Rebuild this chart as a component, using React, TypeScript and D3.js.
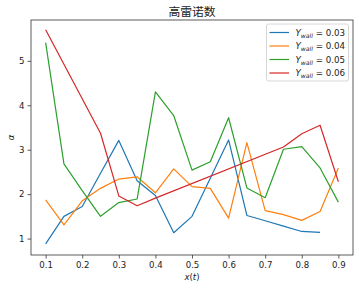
import React from 'react';
import { select, scaleLinear, axisBottom, axisLeft, line } from 'd3';

// data
const xFull = [0.1, 0.15, 0.2, 0.25, 0.3, 0.35, 0.4, 0.45, 0.5, 0.55, 0.6, 0.65, 0.7, 0.75, 0.8, 0.85, 0.9];
const xBlue = xFull.slice(0, 16);
const xRed = [0.1, 0.25, 0.3, 0.35, 0.4, 0.75, 0.8, 0.85, 0.9];

const blue = [0.88, 1.5, 1.72, 2.47, 3.21, 2.3, 1.97, 1.13, 1.5, 2.36, 3.22, 1.52, 1.4, 1.28, 1.16, 1.14];
const orange = [1.87, 1.31, 1.85, 2.13, 2.34, 2.39, 2.03, 2.57, 2.17, 2.13, 1.46, 3.16, 1.63, 1.54, 1.41, 1.61, 2.59];
const green = [5.41, 2.68, 2.08, 1.5, 1.81, 1.89, 4.3, 3.77, 2.54, 2.73, 3.72, 2.14, 1.92, 3.01, 3.07, 2.59, 1.82];
const red = [5.7, 3.37, 1.96, 1.74, 1.91, 3.06, 3.36, 3.55, 2.28];

const legendLabels = ['0.03', '0.04', '0.05', '0.06'];
const colors = ['#1f77b4', '#ff7f0e', '#2ca02c', '#d62728'];
const xTicks = [0.1, 0.2, 0.3, 0.4, 0.5, 0.6, 0.7, 0.8, 0.9];
const yTicks = [1, 2, 3, 4, 5];

const W = 359;
const H = 290;
const left = 31;
const top = 20;
const right = 353;
const bottom = 255;
const font = 'DejaVu Sans, sans-serif';

export default function App() {
  const svgRef = React.useRef<SVGSVGElement>(null);

  React.useEffect(() => {
    const svg = select(svgRef.current);
    svg.selectAll('*').remove();

    const x = scaleLinear().domain([0.06, 0.94]).range([left, right]);
    const y = scaleLinear().domain([0.63, 5.92]).range([bottom, top]);

    const series = [
      { xs: xBlue, ys: blue },
      { xs: xFull, ys: orange },
      { xs: xFull, ys: green },
      { xs: xRed, ys: red },
    ];

    const mk = line<[number, number]>()
      .x((d) => x(d[0]))
      .y((d) => y(d[1]));

    svg
      .append('g')
      .selectAll('path')
      .data(series)
      .join('path')
      .attr('d', (s) => mk(s.xs.map((v, i) => [v, s.ys[i]] as [number, number])))
      .attr('fill', 'none')
      .attr('stroke', (_, i) => colors[i])
      .attr('stroke-width', 1.2)
      .attr('stroke-linejoin', 'round');

    // frame
    svg
      .append('rect')
      .attr('x', left)
      .attr('y', top)
      .attr('width', right - left)
      .attr('height', bottom - top)
      .attr('fill', 'none')
      .attr('stroke', '#333')
      .attr('stroke-width', 0.8);

    const xAxis = axisBottom(x)
      .tickValues(xTicks)
      .tickSize(3.5)
      .tickPadding(3)
      .tickFormat((d) => String(d));
    const gx = svg.append('g').attr('transform', `translate(0,${bottom})`).call(xAxis as any);

    const yAxis = axisLeft(y)
      .tickValues(yTicks)
      .tickSize(3.5)
      .tickPadding(3)
      .tickFormat((d) => String(d));
    const gy = svg.append('g').attr('transform', `translate(${left},0)`).call(yAxis as any);

    [gx, gy].forEach((g) => {
      g.select('.domain').remove();
      g.selectAll('line').attr('stroke', '#333').attr('stroke-width', 0.8);
      g.selectAll('text').attr('font-family', font).attr('font-size', 8.6).attr('fill', '#222');
    });

    // title and labels
    svg
      .append('text')
      .attr('x', (left + right) / 2)
      .attr('y', 16)
      .attr('text-anchor', 'middle')
      .attr('font-family', 'Noto Sans CJK SC, sans-serif')
      .attr('font-size', 11.8)
      .attr('fill', '#222')
      .text('高雷诺数');

    const xl = svg
      .append('text')
      .attr('x', (left + right) / 2)
      .attr('y', 280)
      .attr('text-anchor', 'middle')
      .attr('font-family', font)
      .attr('font-size', 8.6)
      .attr('fill', '#222');
    xl.append('tspan').attr('font-style', 'italic').text('x');
    xl.append('tspan').text('(');
    xl.append('tspan').attr('font-style', 'italic').text('t');
    xl.append('tspan').text(')');

    svg
      .append('text')
      .attr('transform', `translate(14,${(top + bottom) / 2}) rotate(-90)`)
      .attr('text-anchor', 'middle')
      .attr('font-family', font)
      .attr('font-style', 'italic')
      .attr('font-size', 8.6)
      .attr('fill', '#222')
      .text('α');

    // legend
    const lg = svg.append('g').attr('transform', 'translate(266.5,24)');
    lg.append('rect')
      .attr('width', 82)
      .attr('height', 57)
      .attr('rx', 2)
      .attr('fill', 'white')
      .attr('fill-opacity', 0.8)
      .attr('stroke', '#ccc')
      .attr('stroke-width', 0.8);

    legendLabels.forEach((lab, i) => {
      const row = lg.append('g').attr('transform', `translate(0,${8.5 + i * 13.5})`);
      row.append('line')
        .attr('x1', 3)
        .attr('x2', 22.5)
        .attr('stroke', colors[i])
        .attr('stroke-width', 1.2);
      const t = row
        .append('text')
        .attr('x', 29)
        .attr('y', 3.2)
        .attr('font-family', font)
        .attr('font-size', 8.7)
        .attr('fill', '#222');
      t.append('tspan').attr('font-style', 'italic').text('Y');
      t.append('tspan').attr('font-style', 'italic').attr('font-size', 6.1).attr('dy', 1.8).text('wall');
      t.append('tspan').attr('dy', -1.8).text(` = ${lab}`);
    });
  }, []);

  return (
    <svg
      ref={svgRef}
      width={W}
      height={H}
      style={{ position: 'absolute', left: 0, top: 0, background: 'white' }}
    />
  );
}
